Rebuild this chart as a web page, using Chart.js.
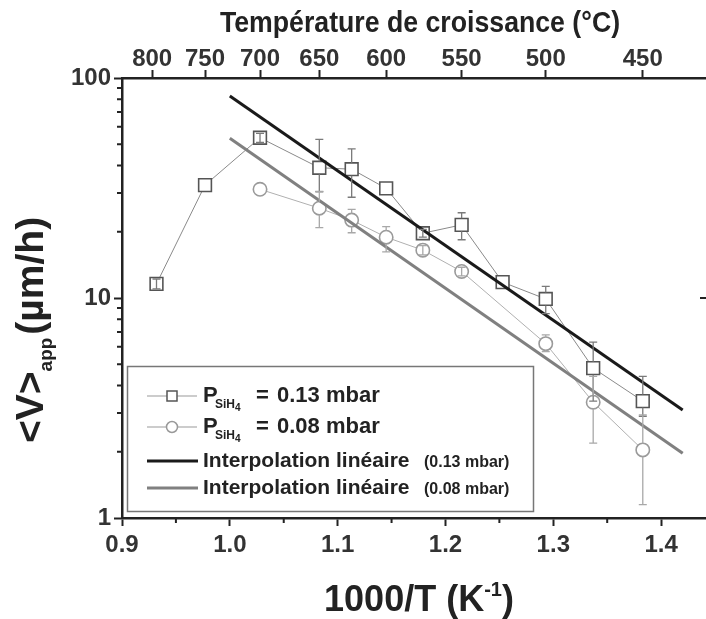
<!DOCTYPE html>
<html>
<head>
<meta charset="utf-8">
<script src="https://cdn.jsdelivr.net/npm/chart.js@4.4.1/dist/chart.umd.min.js"></script>
<style>
html, body { margin: 0; padding: 0; background: #fff; overflow: hidden; }
#wrap { width: 717px; height: 619px; position: relative; }
</style>
</head>
<body>
<div id="wrap"><canvas id="chart1"></canvas></div>
<script>
// P(SiH4) = 0.13 mbar
var sqX = [0.932, 0.977, 1.028, 1.083, 1.113, 1.145, 1.179, 1.215, 1.253, 1.293, 1.337, 1.383];
var sqV = [11.6, 32.6, 53.5, 39.1, 38.5, 31.5, 19.7, 21.5, 11.8, 9.9, 4.8, 3.4];
var sqHi = [12.2, null, 56, 52.6, 47.6, null, 20.5, 24.4, null, 11.3, 6.3, 4.4];
var sqLo = [11.0, null, 51, 30.4, 28.7, null, 18.9, 18.4, null, 8.5, 3.4, 2.9];

// P(SiH4) = 0.08 mbar
var ciX = [1.028, 1.083, 1.113, 1.145, 1.179, 1.215, 1.293, 1.337, 1.383];
var ciV = [31.2, 25.6, 22.6, 18.9, 16.5, 13.2, 6.2, 3.36, 2.04];
var ciHi = [null, 30.5, 25.3, 21.1, 17.3, 13.8, 6.8, 4.4, 2.94];
var ciLo = [null, 20.9, 19.8, 16.2, 15.7, 12.6, 5.7, 2.19, 1.15];

// interpolations
var fitX = [1.0, 1.42];
var fit013 = [82.8, 3.1];
var fit008 = [53.2, 1.97];

var xTicks = [0.9, 0.95, 1.0, 1.05, 1.1, 1.15, 1.2, 1.25, 1.3, 1.35, 1.4];
var xLabels = ['0.9', '', '1.0', '', '1.1', '', '1.2', '', '1.3', '', '1.4'];
var yTicks = [1, 2, 3, 4, 5, 6, 7, 8, 9, 10, 20, 30, 40, 50, 60, 70, 80, 90, 100];
var yLabels = ['1', '', '', '', '', '', '', '', '', '10', '', '', '', '', '', '', '', '', '100'];
var topTicks = [0.928, 0.977, 1.028, 1.083, 1.145, 1.215, 1.293, 1.383];
var topLabels = ['800', '750', '700', '650', '600', '550', '500', '450'];

var FONT = "'Liberation Sans', Arial, sans-serif";
var INK = '#222';

function pts(xs, ys) {
    return xs.map(function (x, i) { return { x: x, y: ys[i] }; });
}

function drawErrors(ctx, chart, xv, vals, his, los, color, r) {
    var xs = chart.scales.x, ys = chart.scales.y;
    ctx.save();
    ctx.strokeStyle = color;
    ctx.lineWidth = 1.3;
    for (var i = 0; i < vals.length; i++) {
        if (his[i] == null) continue;
        var px = xs.getPixelForValue(xv[i]);
        var py = ys.getPixelForValue(vals[i]);
        var ph = ys.getPixelForValue(his[i]);
        var pl = ys.getPixelForValue(los[i]);
        ctx.beginPath();
        if (py - ph > r) { ctx.moveTo(px, ph); ctx.lineTo(px, py - r); }
        else { ctx.moveTo(px, ph); ctx.lineTo(px, py); }
        if (pl - py > r) { ctx.moveTo(px, py + r); ctx.lineTo(px, pl); }
        else { ctx.moveTo(px, py); ctx.lineTo(px, pl); }
        ctx.moveTo(px - 4, ph); ctx.lineTo(px + 4, ph);
        ctx.moveTo(px - 4, pl); ctx.lineTo(px + 4, pl);
        ctx.stroke();
    }
    ctx.restore();
}

function pLabel(ctx, x, base, val) {
    ctx.font = 'bold 22px ' + FONT;
    ctx.fillText('P', x, base);
    ctx.font = 'bold 12px ' + FONT;
    ctx.fillText('SiH', x + 12, base + 6);
    ctx.font = 'bold 10px ' + FONT;
    ctx.fillText('4', x + 32, base + 9);
    ctx.font = 'bold 22px ' + FONT;
    ctx.fillText('=', x + 53, base);
    ctx.fillText(val, x + 74, base);
}

var extras = {
    id: 'extras',
    afterDatasetsDraw: function (chart) {
        var ctx = chart.ctx;
        drawErrors(ctx, chart, sqX, sqV, sqHi, sqLo, '#7a7a7a', 6.5);
        drawErrors(ctx, chart, ciX, ciV, ciHi, ciLo, '#a8a8a8', 6.5);
    },
    afterDraw: function (chart) {
        var ctx = chart.ctx, a = chart.chartArea;
        var xs = chart.scales.x, ys = chart.scales.y;
        ctx.save();
        ctx.strokeStyle = INK;
        ctx.lineWidth = 2;
        ctx.beginPath();
        xTicks.forEach(function (v, i) {
            if (xLabels[i]) return;
            var p = xs.getPixelForValue(v);
            ctx.moveTo(p, a.bottom); ctx.lineTo(p, a.bottom + 5);
        });
        yTicks.forEach(function (v, i) {
            if (yLabels[i]) return;
            var p = ys.getPixelForValue(v);
            ctx.moveTo(a.left, p); ctx.lineTo(a.left - 5, p);
        });
        var p10 = ys.getPixelForValue(10);
        ctx.moveTo(706, p10); ctx.lineTo(700, p10);
        ctx.stroke();

        // titles
        ctx.fillStyle = INK;
        ctx.textBaseline = 'alphabetic';
        ctx.textAlign = 'center';
        ctx.save();
        ctx.translate(420, 32);
        ctx.scale(0.92, 1);
        ctx.font = 'bold 29px ' + FONT;
        ctx.fillText('Température de croissance (°C)', 0, 0);
        ctx.restore();

        ctx.textAlign = 'left';
        ctx.font = 'bold 36px ' + FONT;
        var t1 = '1000/T (K', t2 = ')';
        var w1 = ctx.measureText(t1).width, w2 = ctx.measureText(t2).width;
        ctx.font = 'bold 20px ' + FONT;
        var ws = ctx.measureText('-1').width;
        var x0 = 419 - (w1 + ws + w2) / 2;
        ctx.font = 'bold 36px ' + FONT;
        ctx.fillText(t1, x0, 611);
        ctx.fillText(t2, x0 + w1 + ws, 611);
        ctx.font = 'bold 20px ' + FONT;
        ctx.fillText('-1', x0 + w1, 596);

        ctx.save();
        ctx.translate(43, 443);
        ctx.rotate(-Math.PI / 2);
        ctx.font = 'bold 39px ' + FONT;
        var a1 = '<V>', a3 = '(µm/h)';
        var wa1 = ctx.measureText(a1).width;
        ctx.fillText(a1, 0, 0);
        ctx.font = 'bold 19px ' + FONT;
        var wa2 = ctx.measureText('app').width;
        ctx.fillText('app', wa1, 9);
        ctx.font = 'bold 39px ' + FONT;
        ctx.fillText(a3, wa1 + wa2 + 3, 0);
        ctx.restore();

        // legend
        ctx.fillStyle = '#fff';
        ctx.fillRect(127, 366, 407, 146);
        ctx.strokeStyle = '#777';
        ctx.lineWidth = 1.5;
        ctx.strokeRect(127.5, 366.5, 406, 145);

        ctx.lineWidth = 1;
        ctx.strokeStyle = '#999';
        ctx.beginPath();
        ctx.moveTo(147, 396); ctx.lineTo(197, 396);
        ctx.moveTo(147, 427); ctx.lineTo(197, 427);
        ctx.stroke();
        ctx.fillStyle = '#fff';
        ctx.lineWidth = 1.5;
        ctx.strokeStyle = '#555';
        ctx.fillRect(167, 391, 10, 10);
        ctx.strokeRect(167, 391, 10, 10);
        ctx.strokeStyle = '#999';
        ctx.beginPath();
        ctx.arc(172, 427, 5.5, 0, Math.PI * 2);
        ctx.fill(); ctx.stroke();

        ctx.lineWidth = 3;
        ctx.strokeStyle = '#1a1a1a';
        ctx.beginPath(); ctx.moveTo(147, 461); ctx.lineTo(198, 461); ctx.stroke();
        ctx.strokeStyle = '#808080';
        ctx.beginPath(); ctx.moveTo(147, 488); ctx.lineTo(198, 488); ctx.stroke();

        ctx.fillStyle = INK;
        ctx.textAlign = 'left';
        pLabel(ctx, 203, 402, '0.13 mbar');
        pLabel(ctx, 203, 433, '0.08 mbar');
        ctx.font = 'bold 21px ' + FONT;
        ctx.fillText('Interpolation linéaire', 203, 467);
        ctx.fillText('Interpolation linéaire', 203, 494);
        ctx.font = 'bold 16px ' + FONT;
        ctx.fillText('(0.13 mbar)', 424, 467);
        ctx.fillText('(0.08 mbar)', 424, 494);
        ctx.restore();
    }
};

var myChart = document.getElementById('chart1').getContext('2d');
var growthChart = new Chart(myChart, {
    type: 'line',
    data: {
        datasets: [{
            label: 'P SiH4 = 0.13 mbar',
            data: pts(sqX, sqV),
            borderColor: '#8a8a8a',
            borderWidth: 1,
            pointStyle: 'rect',
            pointRadius: 9,
            pointBorderWidth: 1.6,
            pointBorderColor: '#555',
            pointBackgroundColor: '#fff',
            order: 2
        }, {
            label: 'P SiH4 = 0.08 mbar',
            data: pts(ciX, ciV),
            borderColor: '#b0b0b0',
            borderWidth: 1,
            pointStyle: 'circle',
            pointRadius: 6.7,
            pointBorderWidth: 1.6,
            pointBorderColor: '#9a9a9a',
            pointBackgroundColor: '#fff',
            order: 3
        }, {
            label: 'Interpolation linéaire (0.13 mbar)',
            data: pts(fitX, fit013),
            borderColor: '#1a1a1a',
            borderWidth: 3,
            pointRadius: 0,
            order: 0
        }, {
            label: 'Interpolation linéaire (0.08 mbar)',
            data: pts(fitX, fit008),
            borderColor: '#808080',
            borderWidth: 3,
            pointRadius: 0,
            order: 1
        }]
    },
    options: {
        responsive: true,
        maintainAspectRatio: false,
        animation: false,
        devicePixelRatio: 1,
        layout: { padding: 0 },
        plugins: { legend: { display: false }, tooltip: { enabled: false } },
        scales: {
            x: {
                type: 'linear',
                position: 'bottom',
                min: 0.9,
                max: 1.442,
                afterBuildTicks: function (s) { s.ticks = xTicks.map(function (v) { return { value: v }; }); },
                afterFit: function (s) { s.height = 101; },
                ticks: {
                    autoSkip: false,
                    maxRotation: 0,
                    padding: 5,
                    color: '#333',
                    font: { family: FONT, size: 24, weight: 'bold' },
                    callback: function (v, i) { return xLabels[i]; }
                },
                grid: {
                    drawOnChartArea: false,
                    tickLength: 8,
                    tickWidth: 2,
                    tickColor: function (c) { return c.tick && xLabels[c.index] ? INK : 'rgba(0,0,0,0)'; }
                },
                border: { color: INK, width: 2.5 }
            },
            x2: {
                type: 'linear',
                position: 'top',
                min: 0.9,
                max: 1.442,
                afterBuildTicks: function (s) { s.ticks = topTicks.map(function (v) { return { value: v }; }); },
                afterFit: function (s) { s.height = 78; },
                ticks: {
                    autoSkip: false,
                    maxRotation: 0,
                    padding: -4,
                    color: '#333',
                    font: { family: FONT, size: 24, weight: 'bold' },
                    callback: function (v, i) { return topLabels[i]; }
                },
                grid: { drawOnChartArea: false, tickLength: 8, tickWidth: 2, tickColor: INK },
                border: { color: INK, width: 2.5 }
            },
            y: {
                type: 'logarithmic',
                min: 1,
                max: 100,
                afterBuildTicks: function (s) { s.ticks = yTicks.map(function (v) { return { value: v }; }); },
                afterFit: function (s) { s.width = 122; },
                ticks: {
                    autoSkip: false,
                    padding: 3,
                    color: '#333',
                    font: { family: FONT, size: 24, weight: 'bold' },
                    callback: function (v, i) { return yLabels[i]; }
                },
                grid: {
                    drawOnChartArea: false,
                    tickLength: 8,
                    tickWidth: 2,
                    tickColor: function (c) { return c.tick && yLabels[c.index] ? INK : 'rgba(0,0,0,0)'; }
                },
                border: { color: INK, width: 2.5 }
            }
        }
    },
    plugins: [extras]
});
</script>
</body>
</html>
